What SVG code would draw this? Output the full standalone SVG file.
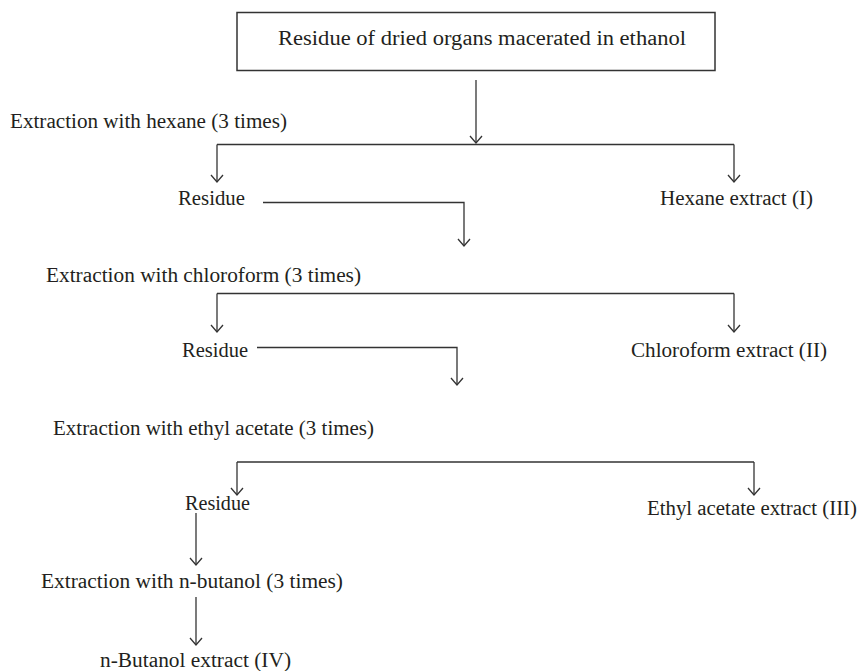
<svg xmlns="http://www.w3.org/2000/svg" width="859" height="671" viewBox="0 0 859 671">
<style>
text{font-family:"Liberation Serif","Times New Roman",serif;font-size:20px;fill:#231f20}
.c{fill:none;stroke:#333;stroke-width:1.3}
.box{fill:#fff;stroke:#333;stroke-width:1.5}
</style>
<defs>
<marker id="ah" markerUnits="userSpaceOnUse" markerWidth="20" markerHeight="20" viewBox="-10 -10 20 20" refX="0" refY="0" orient="auto">
<path d="M-7,-6 L0,0 L-7,6" fill="none" stroke="#333" stroke-width="1.3"/>
</marker>
</defs>
<rect width="859" height="671" fill="#fff"/>
<g id="start"><rect class="box" x="237" y="12.5" width="478" height="58"/><text x="278" y="45" textLength="408" lengthAdjust="spacingAndGlyphs">Residue of dried organs macerated in ethanol</text></g>
<g id="hexane"><text x="10" y="128" textLength="277" lengthAdjust="spacingAndGlyphs">Extraction with hexane (3 times)</text></g>
<g id="residue1"><text x="178" y="205" textLength="67" lengthAdjust="spacingAndGlyphs">Residue</text></g>
<g id="hexane-extract"><text x="660" y="205" textLength="153" lengthAdjust="spacingAndGlyphs">Hexane extract (I)</text></g>
<g id="chloroform"><text x="46" y="282" textLength="315" lengthAdjust="spacingAndGlyphs">Extraction with chloroform (3 times)</text></g>
<g id="residue2"><text x="182" y="357" textLength="66" lengthAdjust="spacingAndGlyphs">Residue</text></g>
<g id="chloroform-extract"><text x="631" y="357" textLength="196" lengthAdjust="spacingAndGlyphs">Chloroform extract (II)</text></g>
<g id="ethyl"><text x="53" y="435" textLength="321" lengthAdjust="spacingAndGlyphs">Extraction with ethyl acetate (3 times)</text></g>
<g id="residue3"><text x="185" y="510" textLength="65" lengthAdjust="spacingAndGlyphs">Residue</text></g>
<g id="ethyl-extract"><text x="647" y="515" textLength="210" lengthAdjust="spacingAndGlyphs">Ethyl acetate extract (III)</text></g>
<g id="butanol"><text x="41" y="588" textLength="302" lengthAdjust="spacingAndGlyphs">Extraction with n-butanol (3 times)</text></g>
<g id="butanol-extract"><text x="100" y="667" textLength="191" lengthAdjust="spacingAndGlyphs">n-Butanol extract (IV)</text></g>
<g id="connectors">
<path class="c" d="M476,80 V143" marker-end="url(#ah)"/>
<path class="c" d="M217,144.5 H734"/>
<path class="c" d="M217,144.5 V182" marker-end="url(#ah)"/>
<path class="c" d="M734,144.5 V182" marker-end="url(#ah)"/>
<path class="c" d="M263,202.5 H464 V246" marker-end="url(#ah)"/>
<path class="c" d="M217,293.5 H734"/>
<path class="c" d="M217,293.5 V332" marker-end="url(#ah)"/>
<path class="c" d="M734,293.5 V332" marker-end="url(#ah)"/>
<path class="c" d="M257,347.5 H457 V385" marker-end="url(#ah)"/>
<path class="c" d="M237,462 H754"/>
<path class="c" d="M237,462 V495" marker-end="url(#ah)"/>
<path class="c" d="M754,462 V495" marker-end="url(#ah)"/>
<path class="c" d="M196,513 V565" marker-end="url(#ah)"/>
<path class="c" d="M196,597 V645" marker-end="url(#ah)"/>
</g>
</svg>
